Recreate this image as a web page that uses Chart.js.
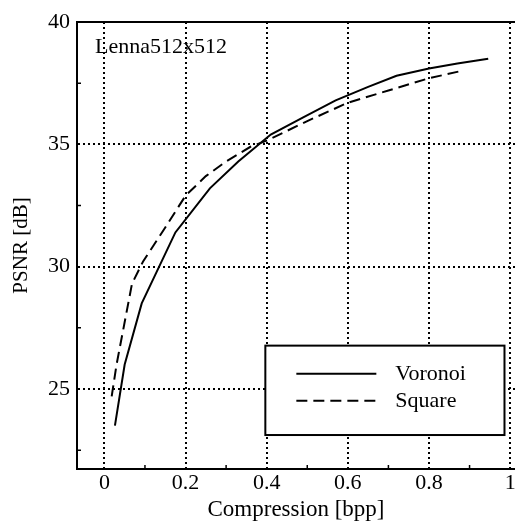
<!DOCTYPE html>
<html>
<head>
<meta charset="utf-8">
<script src="https://cdn.jsdelivr.net/npm/chart.js@4.4.0/dist/chart.umd.min.js"></script>
<style>
  html, body { margin: 0; padding: 0; background: #fff; }
  #wrap { width: 515px; height: 528px; position: relative; }
</style>
</head>
<body>
<div id="wrap"><canvas id="psnrChart"></canvas></div>
<script>
// Rate-distortion curves
const voronoiRate = [0.026, 0.05, 0.092, 0.175, 0.26, 0.33, 0.41, 0.49, 0.57, 0.65, 0.72, 0.8, 0.87, 0.946];
const voronoiPsnr = [23.5, 26.0, 28.5, 31.4, 33.2, 34.3, 35.4, 36.1, 36.8, 37.35, 37.8, 38.1, 38.3, 38.5];
const squareRate = [0.018, 0.03, 0.068, 0.095, 0.15, 0.2, 0.25, 0.3, 0.36, 0.4, 0.5, 0.6, 0.7, 0.8, 0.88];
const squarePsnr = [24.7, 26.0, 29.3, 30.2, 31.6, 32.9, 33.7, 34.3, 34.9, 35.15, 35.95, 36.7, 37.2, 37.7, 38.0];

const seriesNames = ["Voronoi", "Square"];
const imageLabel = "Lenna512x512";
const xTickValues = [0, 0.2, 0.4, 0.6, 0.8, 1];
const yTickValues = [25, 30, 35, 40];
const xMinorTicks = [0.1, 0.3, 0.5, 0.7, 0.9];
const yMinorTicks = [22.5, 27.5, 32.5, 37.5];

const FONT = "'Liberation Serif', 'DejaVu Serif', serif";

function toPoints(xs, ys) {
    return xs.map((x, i) => ({ x: x, y: ys[i] }));
}

// frame, minor ticks, image label and boxed legend
const decorations = {
    id: "decorations",
    afterDatasetsDraw(chart) {
        const { ctx, chartArea: a, scales } = chart;
        const xs = scales.x, ys = scales.y;
        ctx.save();
        ctx.strokeStyle = "#000";
        ctx.fillStyle = "#000";

        // top border
        ctx.lineWidth = 2;
        ctx.beginPath();
        ctx.moveTo(a.left - 1, a.top);
        ctx.lineTo(a.right, a.top);
        ctx.stroke();

        // minor ticks (inward)
        ctx.lineWidth = 1.5;
        ctx.beginPath();
        xMinorTicks.forEach(v => {
            const px = xs.getPixelForValue(v);
            ctx.moveTo(px, a.bottom);
            ctx.lineTo(px, a.bottom - 4);
        });
        yMinorTicks.forEach(v => {
            const py = ys.getPixelForValue(v);
            ctx.moveTo(a.left, py);
            ctx.lineTo(a.left + 4, py);
        });
        ctx.stroke();

        // image label
        ctx.font = "22px " + FONT;
        ctx.textAlign = "left";
        ctx.textBaseline = "alphabetic";
        ctx.fillText(imageLabel, a.left + 18, a.top + 31);

        // legend box
        const w = a.right - a.left, h = a.bottom - a.top;
        const bx = a.left + w * 0.43, by = a.top + h * 0.724;
        const bw = w * 0.546, bh = h * 0.2;
        ctx.fillStyle = "#fff";
        ctx.fillRect(bx, by, bw, bh);
        ctx.lineWidth = 2;
        ctx.setLineDash([]);
        ctx.strokeRect(bx, by, bw, bh);

        chart.data.datasets.forEach((ds, i) => {
            const ly = by + 28 + i * 27;
            ctx.lineWidth = ds.borderWidth;
            ctx.setLineDash(ds.borderDash || []);
            ctx.beginPath();
            ctx.moveTo(bx + 31, ly);
            ctx.lineTo(bx + 111, ly);
            ctx.stroke();
            ctx.setLineDash([]);
            ctx.fillStyle = "#000";
            ctx.font = "22px " + FONT;
            ctx.textBaseline = "middle";
            ctx.fillText(ds.label, bx + 130, ly + 1);
        });
        ctx.restore();
    }
};

new Chart(document.getElementById("psnrChart"), {
    type: "line",
    data: {
        datasets: [
            {
                label: seriesNames[0],
                data: toPoints(voronoiRate, voronoiPsnr),
                borderColor: "#000",
                borderWidth: 2,
                borderDash: [],
                pointRadius: 0,
                tension: 0,
                fill: false
            },
            {
                label: seriesNames[1],
                data: toPoints(squareRate, squarePsnr),
                borderColor: "#000",
                borderWidth: 2,
                borderDash: [11, 6],
                pointRadius: 0,
                tension: 0,
                fill: false
            }
        ]
    },
    options: {
        responsive: true,
        maintainAspectRatio: false,
        animation: false,
        layout: { padding: { top: 22, left: 0, right: 0, bottom: 0 } },
        plugins: {
            legend: { display: false },
            tooltip: { enabled: false }
        },
        scales: {
            x: {
                type: "linear",
                min: -0.0675,
                max: 1.012,
                afterBuildTicks: s => { s.ticks = xTickValues.map(v => ({ value: v })); },
                afterFit: s => {
                    s.height = 59;
                    s.paddingLeft = 0; s.paddingRight = 0;
                },
                grid: { color: "#000", lineWidth: 2, drawTicks: false },
                border: { display: true, color: "#000", width: 2, dash: [2, 3] },
                ticks: {
                    padding: 1,
                    maxRotation: 0,
                    color: "#000",
                    font: { family: FONT, size: 22 },
                    callback: v => String(+v.toFixed(1))
                },
                title: {
                    display: true,
                    text: "Compression [bpp]",
                    color: "#000",
                    font: { family: FONT, size: 23 },
                    padding: { top: 0, bottom: 4 }
                }
            },
            y: {
                type: "linear",
                min: 21.73,
                max: 40,
                afterBuildTicks: s => { s.ticks = yTickValues.map(v => ({ value: v })); },
                afterFit: s => {
                    s.width = 77;
                    s.paddingTop = 0; s.paddingBottom = 0;
                },
                grid: { color: "#000", lineWidth: 2, drawTicks: false },
                border: { display: true, color: "#000", width: 2, dash: [2, 3] },
                ticks: {
                    padding: 7,
                    color: "#000",
                    font: { family: FONT, size: 22 },
                    callback: v => String(v)
                },
                title: {
                    display: true,
                    text: "PSNR [dB]",
                    color: "#000",
                    font: { family: FONT, size: 21 },
                    padding: { top: 9, bottom: 0 }
                }
            }
        }
    },
    plugins: [decorations]
});
</script>
</body>
</html>
